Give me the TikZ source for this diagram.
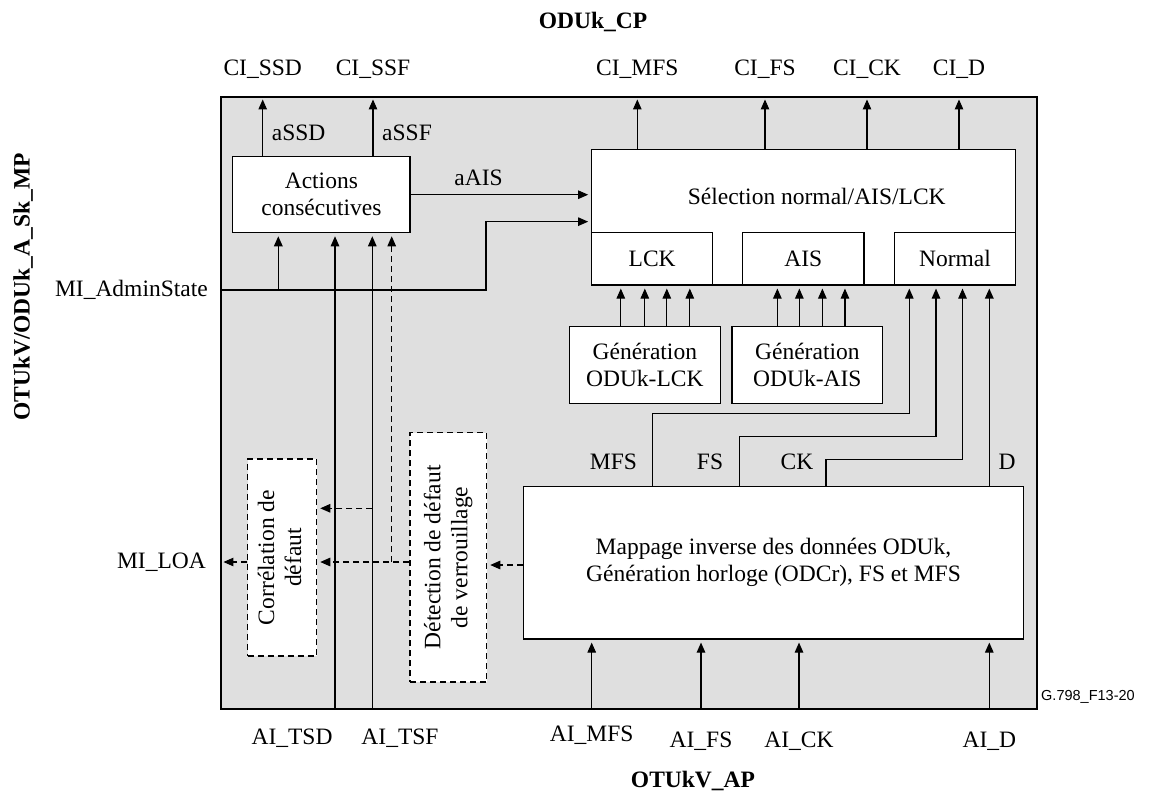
\documentclass[tikz,border=0pt]{standalone}
\usepackage{fontspec}
\setmainfont{Liberation Serif}
\newfontfamily\figsans{Liberation Sans}
\usetikzlibrary{arrows.meta, positioning, calc}
\definecolor{fboxgray}{RGB}{223,223,223}

\begin{document}
\begin{tikzpicture}[x=1pt, y=-1pt,
  every node/.style={font=\fontsize{23.5}{27}\selectfont, inner sep=0pt},
  blk/.style={draw, fill=white, line width=1.1pt, align=center},
  dblk/.style={blk, dash pattern=on 6pt off 4pt},
  sig/.style={line width=1.1pt, -{Triangle[length=10pt, width=8.5pt]}, shorten >=3pt},
  dsig/.style={sig, dash pattern=on 6pt off 4pt},
  ttl/.style={font=\fontsize{23.5}{27}\selectfont\bfseries}]
  \useasboundingbox (0,0) rectangle (1155,793);

  \node[draw, fill=fboxgray, line width=1.1pt, minimum width=816pt, minimum height=612pt] (frame) at (629,403) {};

  % titles
  \node[ttl] (cp) at (593,22) {ODUk\_CP};
  \node[ttl] (ap) at (693,781) {OTUkV\_AP};
  \node[ttl, rotate=90] (mp) at (23,287) {OTUkV/ODUk\_A\_Sk\_MP};
  \node[anchor=west, font=\figsans\fontsize{14.5}{16}\selectfont] (figid) at (1041,697) {G.798\_F13-20};

  % blocks
  \node[blk, minimum width=177.3pt, minimum height=76pt] (act) at (321.35,194.7) {Actions\\consécutives};
  \node[blk, minimum width=424pt, minimum height=135.7pt] (sel) at (803.7,217.15) {};
  \node (seltxt) at (816.7,196.7) {Sélection normal/AIS/LCK};
  \node[blk, minimum width=121pt, minimum height=52.3pt] (lck) at (652.2,258.85) {LCK};
  \node[blk, minimum width=121.3pt, minimum height=52.3pt] (ais) at (803.35,258.85) {AIS};
  \node[blk, minimum width=121.4pt, minimum height=52.3pt] (nrm) at (955,258.85) {Normal};
  \node[blk, minimum width=151pt, minimum height=76.6pt] (gl) at (644.8,365) {Génération\\ODUk-LCK};
  \node[blk, minimum width=150.7pt, minimum height=76.6pt] (ga) at (807.35,365) {Génération\\ODUk-AIS};
  \node[blk, minimum width=499.6pt, minimum height=152.8pt] (map) at (773.5,562.6)
    {Mappage inverse des données ODUk,\\Génération horloge (ODCr), FS et MFS};
  \node[dblk, minimum width=69pt, minimum height=197pt] (cor) at (282.2,557.5)
    {\rotatebox{90}{\begin{tabular}{@{}c@{}}Corrélation de\\défaut\end{tabular}}};
  \node[dblk, minimum width=76.7pt, minimum height=249.3pt] (det) at (448.35,557.35)
    {\rotatebox{90}{\begin{tabular}{@{}c@{}}Détection de défaut\\de verrouillage\end{tabular}}};

  % point labels
  \node (cissd) at (262.7,69) {CI\_SSD};
  \node (cissf) at (373,69) {CI\_SSF};
  \node (cimfs) at (637.3,69) {CI\_MFS};
  \node (cifs) at (765,69) {CI\_FS};
  \node (cick) at (867,69) {CI\_CK};
  \node (cid) at (959,69) {CI\_D};
  \node[anchor=west] (assd) at (271.7,133) {aSSD};
  \node[anchor=west] (assf) at (382,133) {aSSF};
  \node (aais) at (478.5,178) {aAIS};
  \node[anchor=east] (adm) at (208,290) {MI\_AdminState};
  \node[anchor=east] (loa) at (206,562) {MI\_LOA};
  \node (mfs) at (613.5,462) {MFS};
  \node (fs) at (710,462) {FS};
  \node (ck) at (797,462) {CK};
  \node (d) at (1007,462) {D};
  \node (aitsd) at (292,738) {AI\_TSD};
  \node (aitsf) at (400,738) {AI\_TSF};
  \node (aimfs) at (591.7,735) {AI\_MFS};
  \node (aifs) at (701,741) {AI\_FS};
  \node (aick) at (799,741) {AI\_CK};
  \node (aid) at (989.3,741) {AI\_D};

  % outputs
  \draw[sig] (act.north -| cissd) -- (frame.north -| cissd);
  \draw[sig] (act.north -| cissf) -- (frame.north -| cissf);
  \foreach \n in {cimfs,cifs,cick,cid}
    \draw[sig] (sel.north -| \n) -- (frame.north -| \n);

  % consequent actions
  \draw[sig] (act.east) -- (act.east -| sel.west);
  \coordinate (bend) at (486,290);
  \coordinate (jadm) at (278.3,290);
  \draw[sig] (frame.west |- adm) -- (bend) |- ([yshift=-4.5pt]sel.west);
  \draw[sig, line width=1.5pt] (jadm) -- (jadm |- act.south);
  \coordinate (tsd) at (335,709);
  \coordinate (tsf) at (372.3,709);
  \draw[sig] (tsd) -- (tsd |- act.south);
  \draw[sig] (tsf) -- (tsf |- act.south);

  % defects
  \coordinate (jtsf) at (372.3,508.3);
  \coordinate (jdet) at (391.7,562);
  \draw[dsig] (jtsf) -- (jtsf -| cor.east);
  \draw[dsig] (det.west |- jdet) -- (jdet -| cor.east);
  \draw[dsig] (jdet) -- (jdet |- act.south);
  \draw[dsig] (cor.west |- loa) -- (frame.west |- loa);
  \draw[dsig] ([yshift=-2.4pt]map.west) -- ([yshift=-2.4pt]map.west -| det.east);

  % generators
  \foreach \dx in {-24,0,22,45}
    \draw[sig] ([xshift=\dx pt]gl.north) -- ([xshift=\dx pt]gl.north |- lck.south);
  \foreach \dx in {-30,-8,15,37.6}
    \draw[sig] ([xshift=\dx pt]ga.north) -- ([xshift=\dx pt]ga.north |- ais.south);

  % normal signals
  \draw[sig] ([xshift=-121.2pt]map.north) -- ++(0,-72.2) -| ([xshift=-45.7pt]nrm.south);
  \draw[sig] ([xshift=-34.2pt]map.north) -- ++(0,-49.5) -| ([xshift=-19pt]nrm.south);
  \draw[sig] ([xshift=52.5pt]map.north) -- ++(0,-26.2) -| ([xshift=7.5pt]nrm.south);
  \draw[sig, line width=1.5pt] ([xshift=215.8pt]map.north) -- ([xshift=215.8pt]map.north |- nrm.south);

  % inputs
  \foreach \n in {aimfs,aifs,aick,aid}
    \draw[sig] (frame.south -| \n) -- (map.south -| \n);
\end{tikzpicture}
\end{document}
